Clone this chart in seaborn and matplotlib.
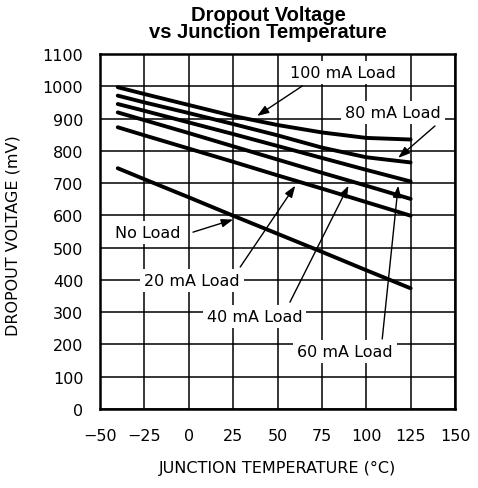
import pandas as pd
import matplotlib
matplotlib.use("Agg")
import matplotlib.pyplot as plt
import seaborn as sns

# Data
temps = [-40, -25, 0, 25, 50, 75, 100, 125]
load_100ma = [997, 976, 942, 908, 880, 857, 840, 835]
load_80ma = [971, 950, 917, 883, 848, 810, 780, 764]
load_60ma = [945, 924, 888, 852, 815, 778, 741, 705]
load_40ma = [919, 895, 855, 814, 773, 732, 692, 651]
load_20ma = [873, 848, 807, 766, 724, 683, 641, 599]
no_load = [746, 712, 656, 599, 543, 487, 430, 374]

x_ticks = [-50, -25, 0, 25, 50, 75, 100, 125, 150]
y_ticks = [0, 100, 200, 300, 400, 500, 600, 700, 800, 900, 1000, 1100]

series = {
    "100 mA Load": load_100ma,
    "80 mA Load": load_80ma,
    "60 mA Load": load_60ma,
    "40 mA Load": load_40ma,
    "20 mA Load": load_20ma,
    "No Load": no_load,
}

# long format table for seaborn
rows = []
for name, vals in series.items():
    for t, v in zip(temps, vals):
        rows.append({"temp": t, "mv": v, "load": name})
df = pd.DataFrame(rows)

sns.set_style("white")
plt.rcParams["font.family"] = ["DejaVu Sans"]
plt.rcParams["text.color"] = "black"
plt.rcParams["axes.labelcolor"] = "black"

fig = plt.figure(figsize=(4.78, 4.89), dpi=100)
ax = fig.add_axes([100 / 478, 1 - 410 / 489, 355 / 478, 355 / 489])

sns.lineplot(data=df, x="temp", y="mv", hue="load", units="load", estimator=None,
             palette={k: "black" for k in series}, linewidth=2.8, legend=False,
             ax=ax, zorder=3)

ax.set_xlim(-50, 150)
ax.set_ylim(0, 1100)
ax.set_xticks(x_ticks)
ax.set_yticks(y_ticks)
ax.set_xticklabels(["\u221250", "\u221225", "0", "25", "50", "75", "100", "125", "150"])
ax.tick_params(axis="both", length=0, labelsize=11.5, colors="black")
ax.tick_params(axis="x", pad=14)
ax.tick_params(axis="y", pad=12)
ax.grid(True, color="black", linewidth=1.1)
ax.set_axisbelow(True)
for s in ax.spines.values():
    s.set_color("black")
    s.set_linewidth(1.8)

ax.set_xlabel("JUNCTION TEMPERATURE (\u00b0C)", fontsize=11.5, color="black")
ax.set_ylabel("DROPOUT VOLTAGE (mV)", fontsize=11.5, color="black")
ax.xaxis.set_label_coords(0.5, -0.145)
ax.yaxis.set_label_coords(-0.225, 0.49)

# curve labels with arrows
labels = [
    ("100 mA Load", (87, 1044), (64, 1001), (38.5, 908)),
    ("80 mA Load", (115, 920), (138.7, 877), (118, 778)),
    ("No Load", (-23, 548), (2.4, 548), (25, 587)),
    ("20 mA Load", (2, 397), (29, 440), (60, 692)),
    ("40 mA Load", (37, 288), (57, 331), (90, 692)),
    ("60 mA Load", (88, 177), (109, 217), (118, 692)),
]
for text, pos, tail, tip in labels:
    ax.text(pos[0], pos[1], text, ha="center", va="center", fontsize=11.5, color="black",
            bbox=dict(boxstyle="square,pad=0.25", fc="white", ec="none"), zorder=4)
    ax.annotate("", xy=tip, xytext=tail,
                arrowprops=dict(arrowstyle="-|>,head_length=0.7,head_width=0.25",
                                color="black", lw=1.0, shrinkA=0, shrinkB=0),
                zorder=5)

fig.text(268 / 478, 1 - 6 / 489, "Dropout Voltage\nvs Junction Temperature",
         ha="center", va="top", fontsize=14.5, fontweight="bold", color="black",
         family="Liberation Sans", linespacing=0.85)

fig.savefig("out.png", dpi=100)
